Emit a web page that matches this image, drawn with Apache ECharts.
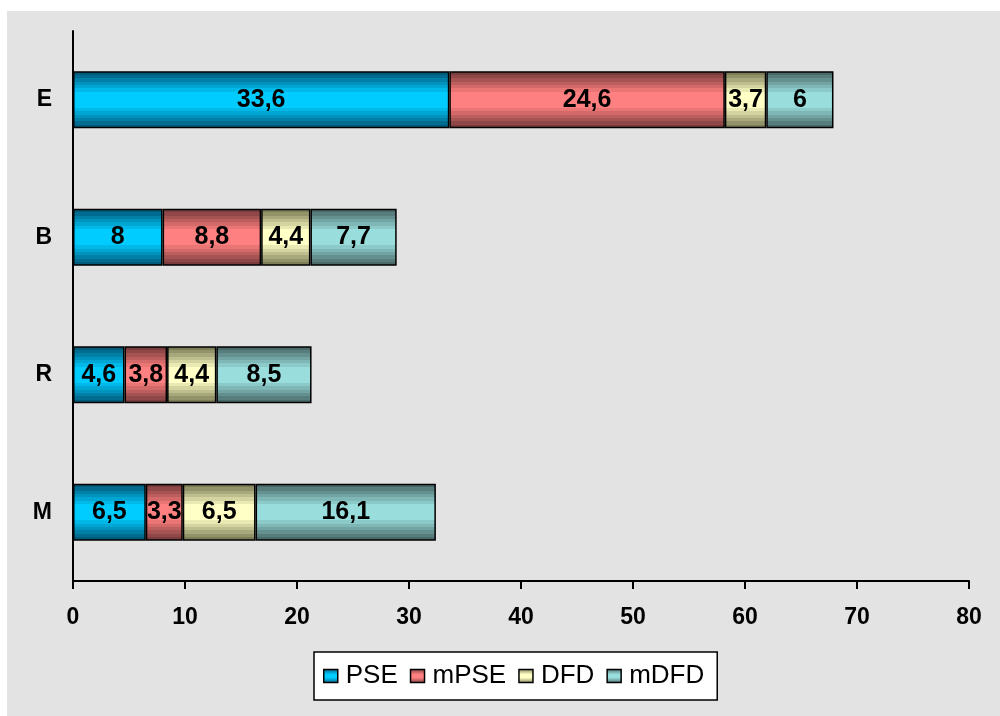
<!DOCTYPE html>
<html>
<head>
<meta charset="utf-8">
<script src="https://cdn.jsdelivr.net/npm/echarts@6/dist/echarts.min.js"></script>
<style>
  html, body { margin: 0; padding: 0; background: #ffffff; }
  #chart { position: absolute; left: 7px; top: 11px; width: 993px; height: 705px; }
</style>
</head>
<body>
<div id="chart"></div>
<script>
// Categories (top to bottom) and stacked segment values
const categories = ['E', 'B', 'R', 'M'];
const seriesNames = ['PSE', 'mPSE', 'DFD', 'mDFD'];
const psE = [33.6, 8, 4.6, 6.5];
const mPSE = [24.6, 8.8, 3.8, 3.3];
const dFD = [3.7, 4.4, 4.4, 6.5];
const mDFD = [6, 7.7, 8.5, 16.1];
const xTicks = [0, 10, 20, 30, 40, 50, 60, 70, 80];

// Banded cylinder-like shading: dark at the edges, bright in the middle
function hexToRgb(h) {
  const n = parseInt(h.slice(1), 16);
  return [(n >> 16) & 255, (n >> 8) & 255, n & 255];
}
function banded(edge, center, steps) {
  const a = hexToRgb(edge), b = hexToRgb(center);
  const colorAt = t => 'rgb(' + a.map((v, i) => Math.round(v + (b[i] - v) * t)).join(',') + ')';
  const stops = [];
  const bandW = 0.5 * 0.72 / steps;  // bands cover the outer part, flat centre
  for (let k = 0; k < steps; k++) {
    const c = colorAt(k / steps);
    stops.push({ offset: k * bandW, color: c }, { offset: (k + 1) * bandW, color: c });
  }
  stops.push({ offset: steps * bandW, color: center }, { offset: 1 - steps * bandW, color: center });
  for (let k = steps - 1; k >= 0; k--) {
    const c = colorAt(k / steps);
    stops.push({ offset: 1 - (k + 1) * bandW, color: c }, { offset: 1 - k * bandW, color: c });
  }
  return new echarts.graphic.LinearGradient(0, 0, 0, 1, stops);
}

const palette = [
  banded('#005a7a', '#00ccff', 6),
  banded('#7a3c3c', '#ff8080', 6),
  banded('#7d7d58', '#ffffc6', 6),
  banded('#4a6a6a', '#99dddd', 6)
];

const values = [psE, mPSE, dFD, mDFD];
const fmt = v => String(v).replace('.', ',');

const chart = echarts.init(document.getElementById('chart'), null, { renderer: 'canvas' });
chart.setOption({
  backgroundColor: '#e3e3e3',
  animation: false,
  textStyle: { fontFamily: 'Liberation Sans, Arial, sans-serif' },
  grid: { left: 66, top: 20, width: 896, height: 550, containLabel: false },
  xAxis: {
    type: 'value', min: 0, max: 80, interval: 10,
    axisLine: { show: true, lineStyle: { color: '#000', width: 2 } },
    axisTick: { show: true, length: 8, lineStyle: { color: '#000', width: 2 } },
    splitLine: { show: false },
    axisLabel: {
      color: '#000', fontSize: 23, fontWeight: 'bold', margin: 25,
      formatter: v => xTicks.includes(v) ? String(v) : ''
    }
  },
  yAxis: {
    type: 'category', data: categories, inverse: true,
    axisLine: { show: true, lineStyle: { color: '#000', width: 2 } },
    axisTick: { show: false },
    splitLine: { show: false },
    axisLabel: { color: '#000', fontSize: 23, fontWeight: 'bold', margin: 21 }
  },
  legend: {
    data: seriesNames,
    left: 307, top: 641,
    orient: 'horizontal',
    backgroundColor: '#ffffff',
    borderColor: '#000', borderWidth: 1.5,
    padding: [11, 13, 11, 9],
    itemWidth: 14, itemHeight: 13, itemGap: 12,
    icon: 'rect',
    itemStyle: { borderColor: '#000', borderWidth: 1.5 },
    textStyle: { color: '#000', fontSize: 26, padding: [0, 0, 0, 3] }
  },
  series: seriesNames.map((name, i) => ({
    name, type: 'bar', stack: 'total', barWidth: 57,
    data: values[i],
    itemStyle: { color: palette[i], borderColor: '#000', borderWidth: 1.5 },
    label: {
      show: true, position: 'inside', color: '#000',
      fontSize: 25, fontWeight: 'bold',
      formatter: p => fmt(p.value)
    }
  }))
});
</script>
</body>
</html>
